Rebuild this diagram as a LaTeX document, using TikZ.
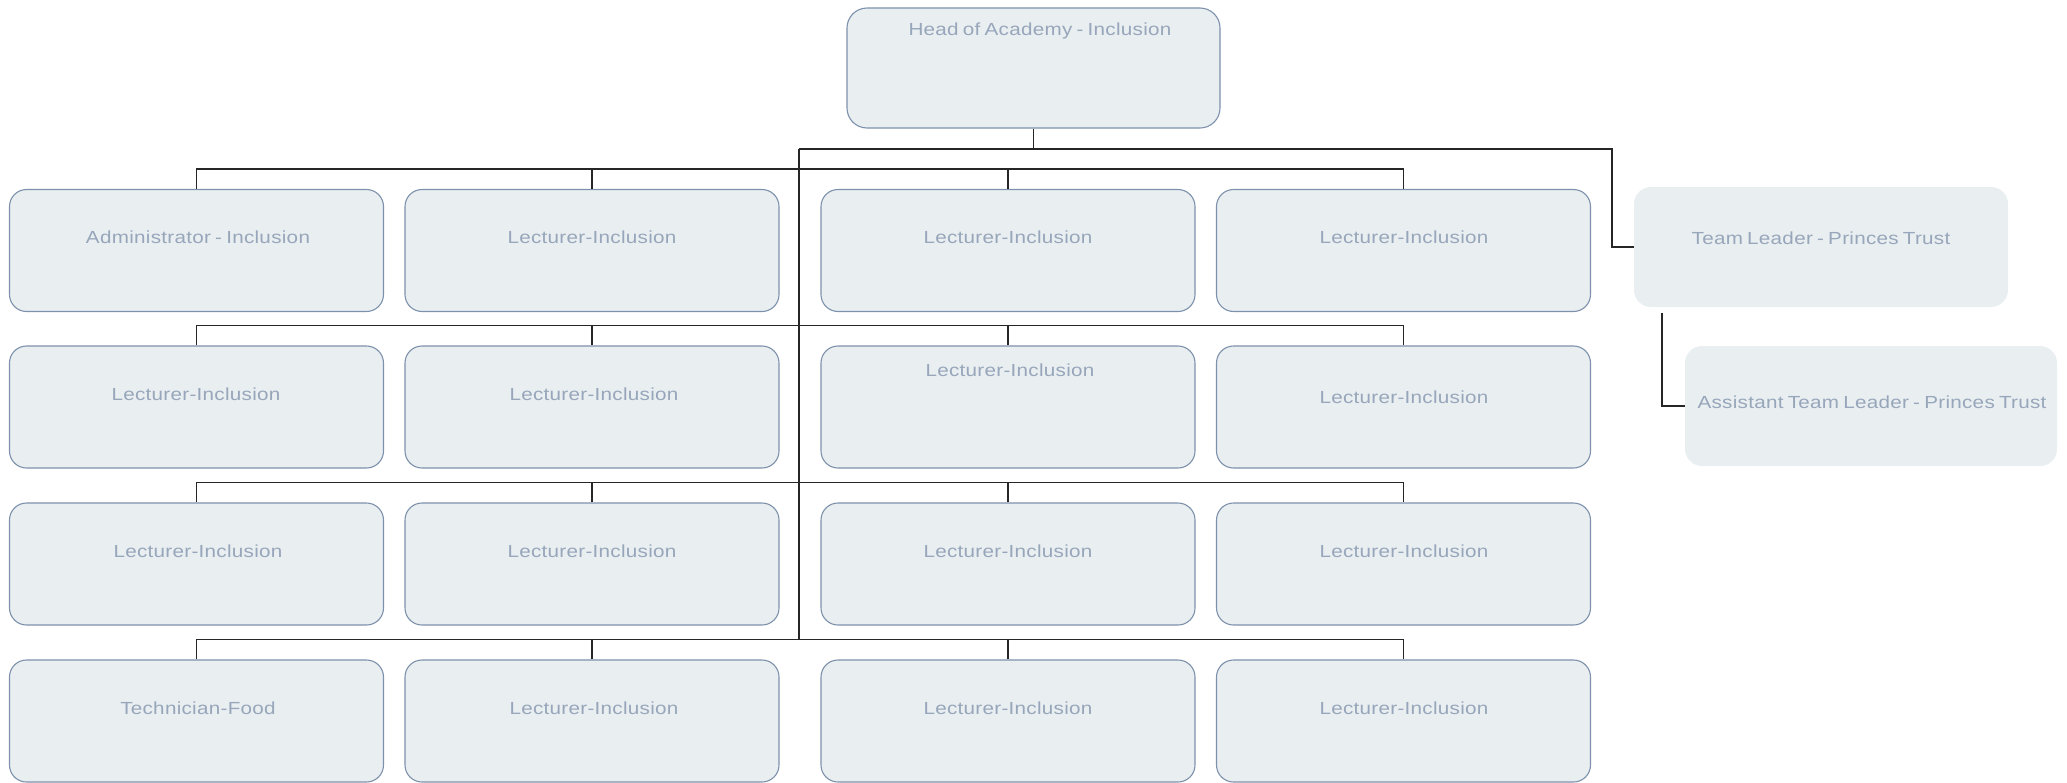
\documentclass[tikz,border=0pt]{standalone}
\usepackage{fontspec}
\setmainfont[FakeStretch=1.18,WordSpace=0.7,LetterSpace=1.6]{Liberation Sans}
\definecolor{boxfill}{HTML}{E9EEF1}
\definecolor{boxline}{HTML}{7D91AC}
\definecolor{txt}{HTML}{97A6BA}
\begin{document}
\begin{tikzpicture}[x=1pt,y=-1pt,
  orgbox/.style={draw=boxline,line width=1.1pt,fill=boxfill,rounded corners=17pt,minimum width=374pt,minimum height=122pt,inner sep=0pt},
  plainbox/.style={fill=boxfill,rounded corners=17pt,minimum width=374pt,minimum height=120pt,inner sep=0pt},
  lbl/.style={text=txt,font=\fontsize{17.5}{20}\selectfont,inner sep=0pt},
  conn/.style={draw=black!85,line width=1.3pt}]
\useasboundingbox (0,0) rectangle (2067,782);
% head
\node[orgbox,minimum width=373pt,minimum height=120pt,rounded corners=20pt] (head) at (1033.5,68) {};
\node[lbl] (headt) at (1040,31) {Head of Academy - Inclusion};
% grid boxes
\foreach \c/\x in {1/196.5,2/592,3/1008,4/1403.5}{
  \foreach \r/\y in {1/250.5,2/407,3/564,4/721}{
    \node[orgbox] (b\r\c) at (\x,\y) {};
  }
}
% side boxes
\node[plainbox] (tl) at (1821,247) {};
\node[plainbox,minimum width=372pt] (atl) at (1871,406) {};
% texts
\node[lbl] (t11) at (198,237) {Administrator - Inclusion};
\node[lbl] (t12) at (592,237) {Lecturer-Inclusion};
\node[lbl] (t13) at (1008,237) {Lecturer-Inclusion};
\node[lbl] (t14) at (1404,237) {Lecturer-Inclusion};
\node[lbl] (t21) at (196,394) {Lecturer-Inclusion};
\node[lbl] (t22) at (594,394) {Lecturer-Inclusion};
\node[lbl] (t23) at (1010,370) {Lecturer-Inclusion};
\node[lbl] (t24) at (1404,397) {Lecturer-Inclusion};
\node[lbl] (t31) at (198,551) {Lecturer-Inclusion};
\node[lbl] (t32) at (592,551) {Lecturer-Inclusion};
\node[lbl] (t33) at (1008,551) {Lecturer-Inclusion};
\node[lbl] (t34) at (1404,551) {Lecturer-Inclusion};
\node[lbl] (t41) at (198,708) {Technician-Food};
\node[lbl] (t42) at (594,708) {Lecturer-Inclusion};
\node[lbl] (t43) at (1008,708) {Lecturer-Inclusion};
\node[lbl] (t44) at (1404,708) {Lecturer-Inclusion};
\node[lbl] (ttl) at (1821,238) {Team Leader - Princes Trust};
\node[lbl] (tatl) at (1872,402) {Assistant Team Leader - Princes Trust};
% connectors
\coordinate (j0) at (1033.5,149);
\coordinate (tr0) at (799,149);
\coordinate (tr1) at (799,639);
\coordinate (tlx) at (1612,149);
\coordinate (tlb) at (1662,313);
\draw[conn] (head.south) -- (j0);
\draw[conn] (tr0) -- (tlx) |- (tl.west);
\draw[conn] (tr0) -- (tr1);
\draw[conn] (tlb) |- (atl.west);
\foreach \r in {1,2,3,4}{
  \draw[conn] (b\r1.north) -- ++(0,-20) -| (b\r4.north);
  \draw[conn] (b\r2.north) -- ++(0,-20);
  \draw[conn] (b\r3.north) -- ++(0,-20);
}
\end{tikzpicture}
\end{document}
